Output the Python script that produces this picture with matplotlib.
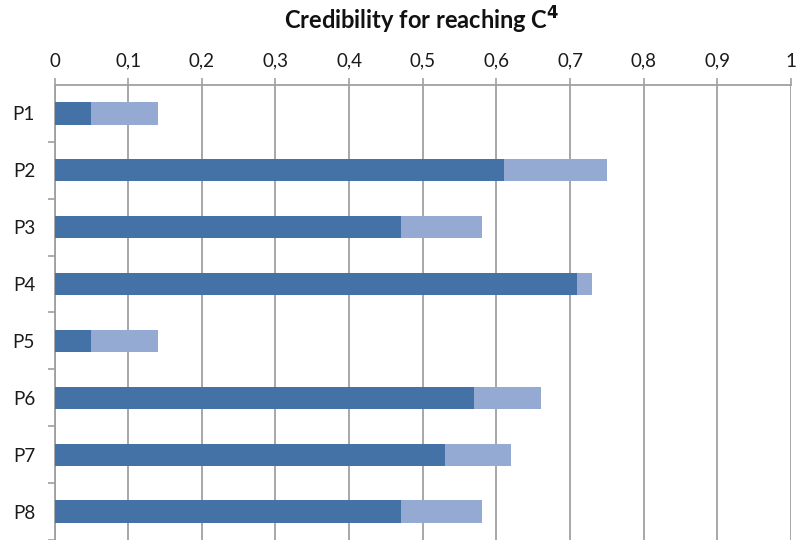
import numpy as np
import matplotlib
matplotlib.use("Agg")
import matplotlib.pyplot as plt
from matplotlib.ticker import FuncFormatter, FixedLocator

# data
labels = ["P1", "P2", "P3", "P4", "P5", "P6", "P7", "P8"]
dark_part = [0.05, 0.61, 0.47, 0.71, 0.05, 0.57, 0.53, 0.47]
total = [0.14, 0.75, 0.58, 0.73, 0.14, 0.66, 0.62, 0.58]
light_part = [t - d for t, d in zip(total, dark_part)]

title = r"Credibility for reaching C$^{\mathbf{4}}$"
x_ticks = [0, 0.1, 0.2, 0.3, 0.4, 0.5, 0.6, 0.7, 0.8, 0.9, 1]

plt.rcParams['font.family'] = ['Lato', 'DejaVu Sans']

fig = plt.figure(figsize=(7.98, 5.40), dpi=100)
ax = fig.add_axes([0.0683, 0.0, 0.9229, 0.8426])

dark = "#4472A6"
light = "#95AAD2"
grid_col = "#A0A0A0"
text_col = "#1a1a1a"

y = np.arange(len(labels))
ax.barh(y, dark_part, height=0.39, color=dark, zorder=3)
ax.barh(y, light_part, left=dark_part, height=0.39, color=light, zorder=3)

ax.set_xlim(0, 1)
ax.set_ylim(len(labels) - 0.5, -0.5)

ax.xaxis.tick_top()
ax.set_xticks(x_ticks)
ax.xaxis.set_major_formatter(FuncFormatter(lambda v, p: f"{v:g}".replace(".", ",")))
ax.tick_params(axis="x", length=5, width=1.2, color=grid_col, pad=6,
               labelsize=13.5, labelcolor=text_col)
ax.grid(axis="x", color=grid_col, linewidth=1.3, zorder=0)

ax.set_yticks(y)
ax.set_yticklabels(labels)
ax.yaxis.set_minor_locator(FixedLocator(np.arange(0.5, len(labels), 1.0)))
ax.tick_params(axis="y", which="major", length=0, pad=14, labelsize=13.5,
               labelcolor=text_col)
ax.tick_params(axis="y", which="minor", length=5, width=1.2, color=grid_col)

for side in ["right", "bottom"]:
    ax.spines[side].set_visible(False)
for side in ["top", "left"]:
    ax.spines[side].set_color(grid_col)
    ax.spines[side].set_linewidth(1.3)

fig.text(0.529, 0.962, title, ha="center", va="center",
         fontsize=17, fontweight="bold", color="#111111")

fig.savefig("out.png", dpi=100)
